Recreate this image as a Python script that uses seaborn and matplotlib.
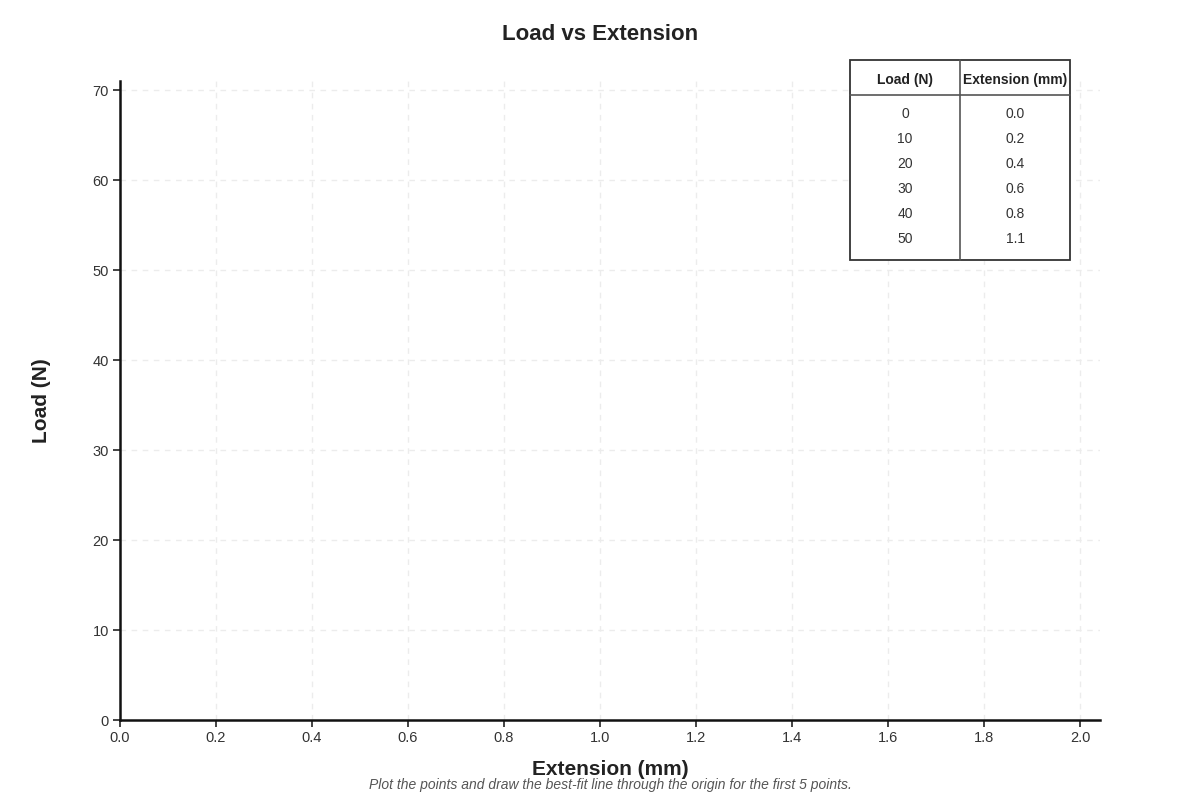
import matplotlib
matplotlib.use("Agg")
import matplotlib.pyplot as plt
from matplotlib.patches import Rectangle
from matplotlib.lines import Line2D
import seaborn as sns

# Data
load_n = [0, 10, 20, 30, 40, 50]
extension_mm = ["0.0", "0.2", "0.4", "0.6", "0.8", "1.1"]
col_labels = ["Load (N)", "Extension (mm)"]
x_ticks = [0.0, 0.2, 0.4, 0.6, 0.8, 1.0, 1.2, 1.4, 1.6, 1.8, 2.0]
y_ticks = [0, 10, 20, 30, 40, 50, 60, 70]

sns.set_theme(style="white")
plt.rcParams['font.family'] = ['Liberation Sans', 'DejaVu Sans']

fig = plt.figure(figsize=(12, 8), dpi=100)
ax = fig.add_axes([0.1, 0.1, 0.81667, 0.79875])

ax.set_xlim(0, 2.0417)
ax.set_ylim(0, 71)
ax.set_xticks(x_ticks)
ax.set_xticklabels([f"{v:.1f}" for v in x_ticks])
ax.set_yticks(y_ticks)
ax.tick_params(axis='both', which='major', direction='out', length=5, width=1.2,
               color='#222222', labelsize=10.5, labelcolor='#333333', pad=3,
               left=True, bottom=True)
ax.grid(True, linestyle=(0, (4, 4)), color='#ececec', linewidth=1.0)
sns.despine(ax=ax)
for s in ['left', 'bottom']:
    ax.spines[s].set_color('#111111')
    ax.spines[s].set_linewidth(1.8)

ax.set_xlabel("Extension (mm)", fontsize=15, fontweight='bold', color='#222222', labelpad=11)
ax.set_ylabel("Load (N)", fontsize=15, fontweight='bold', color='#222222', labelpad=30)
fig.text(0.5, 0.957, "Load vs Extension", ha='center', va='center',
         fontsize=16, fontweight='bold', color='#222222')
fig.text(610 / 1200, 1 - 785 / 800,
         "Plot the points and draw the best-fit line through the origin for the first 5 points.",
         ha='center', va='center', fontsize=10, style='italic', color='#555555')

# Table drawn in pixel-derived axes coordinates
def ax_x(px):
    return (px - 120) / 980

def ax_y(py):
    return (720 - py) / 639

tz = 10
ax.add_patch(Rectangle((ax_x(850), ax_y(260)), ax_x(1070) - ax_x(850), ax_y(60) - ax_y(260),
                       transform=ax.transAxes, facecolor='white', edgecolor='#333333',
                       linewidth=1.3, clip_on=False, zorder=tz))
ax.add_line(Line2D([ax_x(960), ax_x(960)], [ax_y(60), ax_y(260)], transform=ax.transAxes,
                   color='#555555', linewidth=1.2, clip_on=False, zorder=tz + 1))
ax.add_line(Line2D([ax_x(850), ax_x(1070)], [ax_y(95), ax_y(95)], transform=ax.transAxes,
                   color='#555555', linewidth=1.2, clip_on=False, zorder=tz + 1))
col_centers = [905, 1015]
for cx, lab in zip(col_centers, col_labels):
    ax.text(ax_x(cx), ax_y(80), lab, transform=ax.transAxes, ha='center', va='center',
            fontsize=10, fontweight='bold', color='#222222', zorder=tz + 2, clip_on=False)
for i, (l, e) in enumerate(zip(load_n, extension_mm)):
    py = 114 + 25 * i
    ax.text(ax_x(col_centers[0]), ax_y(py), str(l), transform=ax.transAxes, ha='center',
            va='center', fontsize=10, color='#333333', zorder=tz + 2, clip_on=False)
    ax.text(ax_x(col_centers[1]), ax_y(py), e, transform=ax.transAxes, ha='center',
            va='center', fontsize=10, color='#333333', zorder=tz + 2, clip_on=False)

fig.savefig("out.png", dpi=100)
